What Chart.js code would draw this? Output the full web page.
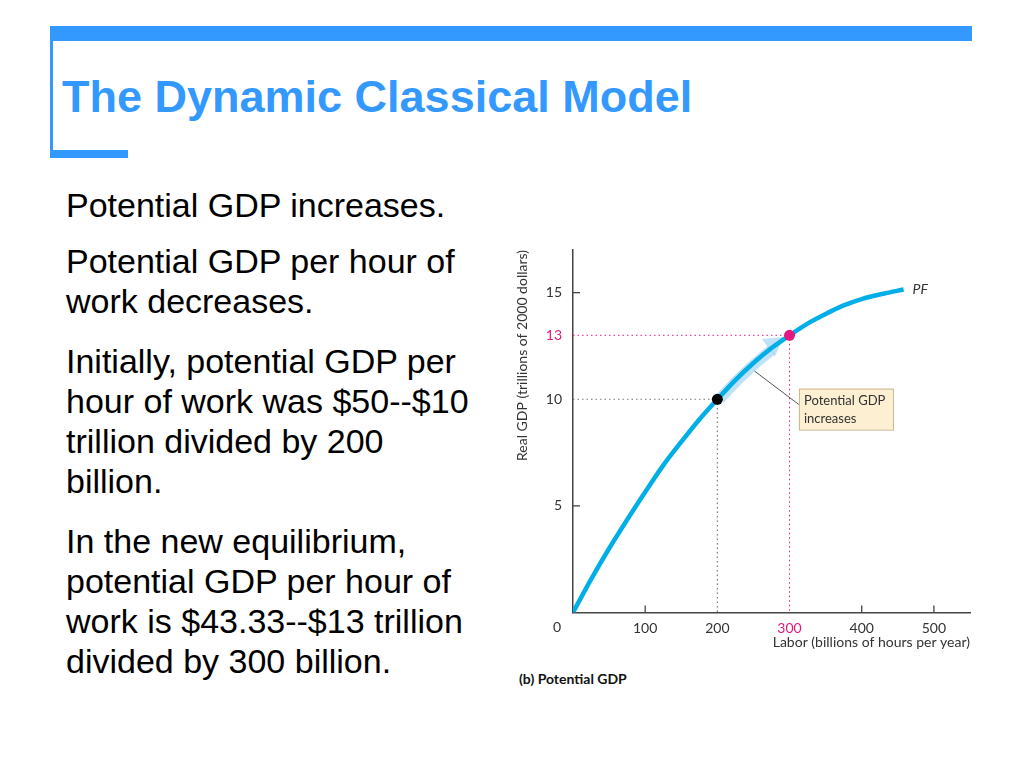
<!DOCTYPE html>
<html>
<head>
<meta charset="utf-8">
<script src="https://cdn.jsdelivr.net/npm/chart.js@4.4.1/dist/chart.umd.min.js"></script>
<style>
  body { margin: 0; background: #fff; width: 1024px; height: 768px; position: relative; overflow: hidden; font-family: "Liberation Sans", Arial, sans-serif; }
  .bar-top { position: absolute; left: 50px; top: 26px; width: 922px; height: 15px; background: #3399ff; }
  .bar-left { position: absolute; left: 50px; top: 26px; width: 3px; height: 132px; background: #3399ff; }
  .bar-bot { position: absolute; left: 50px; top: 150px; width: 78px; height: 8px; background: #3399ff; }
  h1 { position: absolute; left: 62px; top: 74px; margin: 0; font: bold 45px/1 "Liberation Sans", Arial, sans-serif; color: #3399ff; white-space: nowrap; }
  .body { position: absolute; left: 66px; top: 185px; font-size: 34px; line-height: 40px; color: #000; white-space: nowrap; }
  .body p { margin: 0 0 20px 0; }
  .body p.first { margin-bottom: 16px; }
  #wrap { position: absolute; left: 500px; top: 240px; width: 480px; height: 420px; }
  .caption { position: absolute; left: 519px; top: 670px; font: bold 14px Lato, sans-serif; color: #111; }
</style>
</head>
<body>
<div class="bar-top"></div>
<div class="bar-left"></div>
<div class="bar-bot"></div>
<h1>The Dynamic Classical Model</h1>
<div class="body">
  <p class="first">Potential GDP increases.</p>
  <p>Potential GDP per hour of<br>work decreases.</p>
  <p>Initially, potential GDP per<br>hour of work was $50--$10<br>trillion divided by 200<br>billion.</p>
  <p>In the new equilibrium,<br>potential GDP per hour of<br>work is $43.33--$13 trillion<br>divided by 300 billion.</p>
</div>
<div id="wrap"><canvas id="chart"></canvas></div>
<div class="caption">(b) Potential GDP</div>

<script>
// production function PF
const laborValues = [0, 25, 50, 75, 100, 125, 150, 175, 200, 225, 250, 275, 300, 325, 350, 375, 400, 430, 458];
const gdpValues   = [0, 1.55, 3.0, 4.35, 5.65, 6.9, 8.0, 9.05, 10.0, 10.9, 11.7, 12.4, 13.0, 13.55, 14.0, 14.4, 14.7, 14.95, 15.15];

const xTickValues = [100, 200, 300, 400, 500];
const yTickValues = [5, 10, 13, 15];

// initial and new equilibrium
const initialPoint = { x: 200, y: 10 };
const newPoint = { x: 300, y: 13 };

const curveColor = '#00aee8';
const pink = '#e2197f';
const axisColor = '#444';
const chartFont = 'Lato, "Open Sans", sans-serif';

const pfData = laborValues.map((x, i) => ({ x, y: gdpValues[i] }));

// index of PF dataset in the list below
const PF_INDEX = 2;

function curvePixel(chart, labor) {
  const pts = chart.getDatasetMeta(PF_INDEX).data;
  for (let i = 1; i < laborValues.length; i++) {
    if (labor <= laborValues[i]) {
      const t = (labor - laborValues[i - 1]) / (laborValues[i] - laborValues[i - 1]);
      return {
        x: pts[i - 1].x + t * (pts[i].x - pts[i - 1].x),
        y: pts[i - 1].y + t * (pts[i].y - pts[i - 1].y),
      };
    }
  }
  return pts[pts.length - 1];
}

// shift arrow along the curve, drawn under the line
const shiftArrow = {
  id: 'shiftArrow',
  beforeDatasetsDraw(chart) {
    const ctx = chart.ctx;
    const off = { x: 1, y: 1 };
    const band = 'rgba(165, 212, 245, 0.7)';
    ctx.save();
    ctx.strokeStyle = band;
    ctx.fillStyle = band;
    ctx.lineWidth = 11;
    ctx.beginPath();
    for (let l = initialPoint.x + 2; l <= 274; l += 3) {
      const p = curvePixel(chart, l);
      if (l === initialPoint.x + 2) ctx.moveTo(p.x + off.x, p.y + off.y);
      else ctx.lineTo(p.x + off.x, p.y + off.y);
    }
    ctx.stroke();
    const base = curvePixel(chart, 272);
    const tip = curvePixel(chart, 293);
    const dx = tip.x - base.x, dy = tip.y - base.y;
    const len = Math.hypot(dx, dy);
    const nx = -dy / len, ny = dx / len;
    ctx.beginPath();
    ctx.moveTo(tip.x - 1, tip.y - 2);
    ctx.lineTo(base.x + nx * 11 - 1, base.y + ny * 11 - 2);
    ctx.lineTo(base.x - nx * 11 - 1, base.y - ny * 11 - 2);
    ctx.closePath();
    ctx.fill();
    ctx.restore();
  }
};

// inward tick marks, origin label, PF label, callout box
const extras = {
  id: 'extras',
  afterDatasetsDraw(chart) {
    const ctx = chart.ctx;
    const xs = chart.scales.x, ys = chart.scales.y;
    const area = chart.chartArea;
    const guided = [initialPoint.x, newPoint.x];
    const guidedY = [initialPoint.y, newPoint.y];
    ctx.save();
    ctx.strokeStyle = axisColor;
    ctx.lineWidth = 1.3;
    xTickValues.filter(v => !guided.includes(v)).forEach(v => {
      const px = xs.getPixelForValue(v);
      ctx.beginPath(); ctx.moveTo(px, area.bottom); ctx.lineTo(px, area.bottom - 7); ctx.stroke();
    });
    yTickValues.filter(v => !guidedY.includes(v)).forEach(v => {
      const py = ys.getPixelForValue(v);
      ctx.beginPath(); ctx.moveTo(area.left, py); ctx.lineTo(area.left + 7, py); ctx.stroke();
    });

    ctx.fillStyle = '#333';
    ctx.font = '14px ' + chartFont;
    ctx.textAlign = 'center';
    ctx.textBaseline = 'middle';
    ctx.fillText('0', xs.getPixelForValue(0) - 16, area.bottom + 15);

    const last = chart.getDatasetMeta(PF_INDEX).data[laborValues.length - 1];
    ctx.font = 'italic 14px ' + chartFont;
    ctx.textAlign = 'left';
    ctx.fillText('PF', last.x + 9, last.y);

    // callout
    const bx = xs.getPixelForValue(313), by = ys.getPixelForValue(10.5);
    const bw = 94, bh = 41;
    const from = curvePixel(chart, 250);
    ctx.strokeStyle = '#555';
    ctx.lineWidth = 1;
    ctx.beginPath(); ctx.moveTo(from.x + 1, from.y + 8); ctx.lineTo(bx, by + 16); ctx.stroke();
    ctx.fillStyle = '#fcefd2';
    ctx.fillRect(bx, by, bw, bh);
    ctx.strokeStyle = '#c9b68e';
    ctx.strokeRect(bx + 0.5, by + 0.5, bw, bh);
    ctx.fillStyle = '#333';
    ctx.font = '13px ' + chartFont;
    ctx.textBaseline = 'middle';
    ctx.fillText('Potential GDP', bx + 5, by + 12);
    ctx.fillText('increases', bx + 5, by + 30);
    ctx.restore();
  }
};

new Chart(document.getElementById('chart'), {
  type: 'scatter',
  data: {
    datasets: [
      {
        data: [initialPoint],
        pointRadius: 5.5, pointBackgroundColor: '#000', pointBorderWidth: 0, showLine: false,
      },
      {
        data: [newPoint],
        pointRadius: 5.5, pointBackgroundColor: pink, pointBorderWidth: 0, showLine: false,
      },
      {
        data: pfData,
        showLine: true, borderColor: curveColor, borderWidth: 4.5, pointRadius: 0,
        cubicInterpolationMode: 'monotone', borderCapStyle: 'butt',
      },
      {
        data: [{ x: 0, y: initialPoint.y }, initialPoint, { x: initialPoint.x, y: 0 }],
        showLine: true, borderColor: '#777', borderWidth: 1.2, borderDash: [1.5, 3], pointRadius: 0,
      },
      {
        data: [{ x: 0, y: newPoint.y }, newPoint, { x: newPoint.x, y: 0 }],
        showLine: true, borderColor: pink, borderWidth: 1, borderDash: [1.5, 3], pointRadius: 0,
      },
    ]
  },
  options: {
    responsive: true,
    maintainAspectRatio: false,
    animation: false,
    layout: { autoPadding: false, padding: { top: 10, right: 10, left: 0, bottom: 0 } },
    plugins: { legend: { display: false }, tooltip: { enabled: false } },
    scales: {
      x: {
        type: 'linear', min: 0, max: 550,
        afterBuildTicks: (s) => { s.ticks = xTickValues.map(v => ({ value: v })); },
        afterFit: (s) => { s.height = 47.5; s.paddingLeft = 0; s.paddingRight = 0; },
        grid: { display: false, drawTicks: false },
        border: { display: true, color: axisColor, width: 1.5 },
        ticks: {
          padding: 8, maxRotation: 0, autoSkip: false,
          font: { family: chartFont, size: 14 },
          color: (c) => c.tick && c.tick.value === newPoint.x ? pink : '#333',
        },
        title: {
          display: true, text: 'Labor (billions of hours per year)', align: 'end',
          font: { family: chartFont, size: 14 }, color: '#333', padding: { top: 0, bottom: 9 },
        },
      },
      y: {
        type: 'linear', min: 0, max: 17,
        afterBuildTicks: (s) => { s.ticks = yTickValues.map(v => ({ value: v })); },
        afterFit: (s) => { s.width = 73; s.paddingTop = 0; s.paddingBottom = 0; },
        grid: { display: false, drawTicks: false },
        border: { display: true, color: axisColor, width: 1.5 },
        ticks: {
          padding: 11, autoSkip: false,
          font: { family: chartFont, size: 14 },
          color: (c) => c.tick && c.tick.value === newPoint.y ? pink : '#333',
        },
        title: {
          display: true, text: 'Real GDP (trillions of 2000 dollars)', align: 'end',
          font: { family: chartFont, size: 14 }, color: '#333', padding: { top: 14, bottom: 0 },
        },
      },
    },
  },
  plugins: [shiftArrow, extras],
});
</script>
</body>
</html>
